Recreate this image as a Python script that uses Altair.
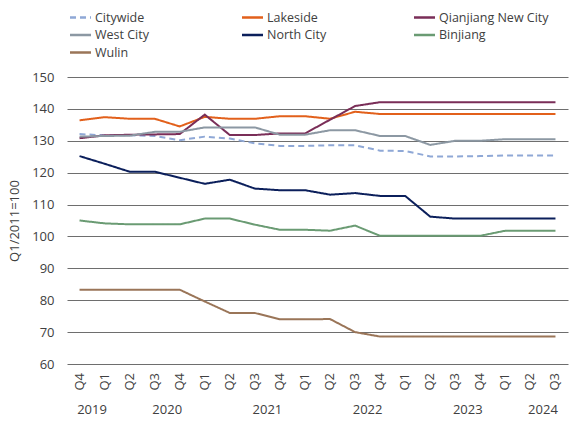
import altair as alt
import pandas as pd

quarters = ["Q4","Q1","Q2","Q3","Q4","Q1","Q2","Q3","Q4","Q1",
            "Q2","Q3","Q4","Q1","Q2","Q3","Q4","Q1","Q2","Q3"]
years = ["2019","2020","2021","2022","2023","2024"]
year_pos = [0.5, 3.5, 7.5, 11.5, 15.5, 18.5]

series_names = ["Citywide","Lakeside","Qianjiang New City","West City",
                "North City","Binjiang","Wulin"]
colors = ["#8FA8D6","#E2601B","#7A2E58","#8C98A3","#0B1F5B","#6A9B73","#9A7558"]

citywide = [132.1,131.7,131.7,131.5,130.2,131.3,130.7,129.2,128.4,128.4,
            128.6,128.6,126.9,126.8,125.1,125.1,125.2,125.4,125.4,125.4]
lakeside = [136.4,137.4,136.9,136.9,134.5,137.5,136.9,136.9,137.7,137.7,
            136.9,139.1,138.4,138.4,138.4,138.4,138.4,138.4,138.4,138.4]
qianjiang = [130.8,131.7,131.9,132.0,132.1,138.2,131.8,131.8,132.3,132.3,
             136.6,140.9,142.1,142.1,142.1,142.1,142.1,142.1,142.1,142.1]
west_city = [131.3,131.5,131.6,132.8,132.8,134.2,134.2,134.2,131.9,131.9,
             133.3,133.3,131.5,131.5,128.7,130.0,130.0,130.5,130.5,130.5]
north_city = [125.2,122.8,120.3,120.3,118.4,116.5,117.8,115.0,114.5,114.5,
              113.1,113.6,112.7,112.7,106.2,105.6,105.6,105.6,105.6,105.6]
binjiang = [105.0,104.1,103.8,103.8,103.8,105.6,105.6,103.7,102.1,102.1,
            101.8,103.4,100.2,100.2,100.2,100.2,100.2,101.8,101.8,101.8]
wulin = [83.3,83.3,83.3,83.3,83.3,79.6,76.0,76.0,74.0,74.0,
         74.1,70.0,68.6,68.6,68.6,68.6,68.6,68.6,68.6,68.6]

all_series = [citywide, lakeside, qianjiang, west_city, north_city, binjiang, wulin]

rows = []
for name, vals in zip(series_names, all_series):
    for i, v in enumerate(vals):
        rows.append({"series": name, "idx": i, "value": v})
df = pd.DataFrame(rows)
ydf = pd.DataFrame({"year": years, "pos": year_pos})
qdf = pd.DataFrame({"q": quarters, "idx": list(range(len(quarters)))})

# manual legend layout (3 columns, row-major), pixel offsets from plot origin
leg_rows = []
for k, name in enumerate(series_names):
    col, row = k % 3, k // 3
    x0 = 3 + 172 * col
    leg_rows.append({"series": name, "lx": x0, "lx2": x0 + 21,
                     "tx": x0 + 25, "ly": -59.5 + 17.5 * row})
ldf = pd.DataFrame(leg_rows)

FONT = "Open Sans"
TXT = "#404040"

color_scale = alt.Scale(domain=series_names, range=colors)
dash_scale = alt.Scale(domain=series_names, range=[[6, 4]] + [[1, 0]] * 6)
x_scale = alt.Scale(domain=[-0.5, 19.5], nice=False, zero=False)

lines = alt.Chart(df).mark_line(strokeWidth=2).encode(
    x=alt.X("idx:Q", scale=x_scale, axis=None),
    y=alt.Y("value:Q", scale=alt.Scale(domain=[60, 150], nice=False, zero=False),
            axis=alt.Axis(values=list(range(60, 151, 10)), grid=True,
                          gridColor="#6E6E6E", gridWidth=1, domain=False, ticks=False,
                          labelPadding=13, labelFont=FONT, labelFontSize=13,
                          labelColor=TXT, title="Q1/2011=100", titleFont=FONT,
                          titleFontSize=13, titleFontWeight="normal",
                          titleColor=TXT, titlePadding=10)),
    color=alt.Color("series:N", scale=color_scale, legend=None),
    strokeDash=alt.StrokeDash("series:N", scale=dash_scale, legend=None),
    order="idx:Q",
)

# quarter tick labels (rotated, reading upward)
q_text = alt.Chart(qdf).mark_text(font=FONT, fontSize=13, color=TXT, angle=270,
                                  align="right", baseline="middle").encode(
    x=alt.X("idx:Q", scale=x_scale, axis=None),
    y=alt.value(296),
    text="q:N",
)

year_text = alt.Chart(ydf).mark_text(font=FONT, fontSize=13, color=TXT,
                                     baseline="middle", align="center").encode(
    x=alt.X("pos:Q", scale=x_scale, axis=None),
    y=alt.value(333),
    text="year:N",
)

leg_sym = alt.Chart(ldf).mark_rule(strokeWidth=2.5).encode(
    x=alt.X("lx:Q", scale=None),
    x2="lx2:Q",
    y=alt.Y("ly:Q", scale=None),
    color=alt.Color("series:N", scale=color_scale, legend=None),
    strokeDash=alt.StrokeDash("series:N", scale=dash_scale, legend=None),
)

leg_txt = alt.Chart(ldf).mark_text(font=FONT, fontSize=12.5, color=TXT,
                                   align="left", baseline="middle").encode(
    x=alt.X("tx:Q", scale=None),
    y=alt.Y("ly:Q", scale=None),
    text="series:N",
)

chart = alt.layer(lines, q_text, year_text, leg_sym, leg_txt).properties(
    width=501, height=287,
    autosize=alt.AutoSizeParams(type="none"),
    padding={"left": 67, "top": 77, "right": 5, "bottom": 62},
    background="white",
).configure_view(stroke=None)

chart.save("out.html", embed_options={"renderer": "svg", "actions": False})
